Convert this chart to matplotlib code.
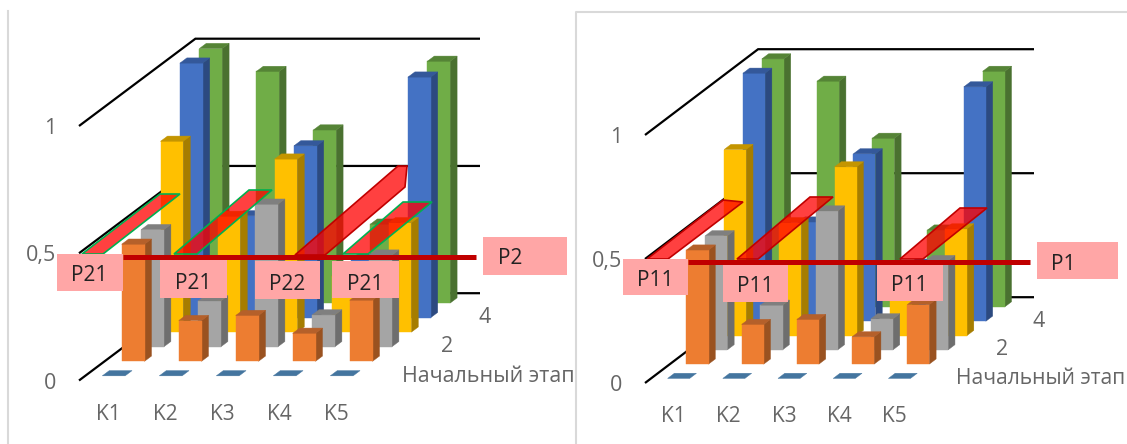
import matplotlib
matplotlib.use('Agg')
import matplotlib.pyplot as plt
from matplotlib.patches import Polygon, Rectangle

plt.rcParams['font.family'] = ['Open Sans', 'DejaVu Sans']

# values, both charts show the same data
categories = ['K1', 'K2', 'K3', 'K4', 'K5']
start_stage = [0, 0, 0, 0, 0]
series1 = [0.46, 0.16, 0.18, 0.11, 0.24]
series2 = [0.46, 0.18, 0.56, 0.125, 0.36]
series3 = [0.75, 0.455, 0.68, 0.22, 0.43]
series4 = [1.0, 0.40, 0.675, 0.23, 0.945]
series5 = [1.0, 0.91, 0.68, 0.31, 0.95]
value_ticks = [0, 0.5, 1]
value_labels = ['0', '0,5', '1']
depth_labels = ['Начальный этап', '2', '4']

rows = [start_stage, series1, series2, series3, series4, series5]
# front, side, top colour of every row
front_colors = ['#44759F', '#ED7D31', '#A5A5A5', '#FFC000', '#4472C4', '#70AD47']
side_colors = ['#44759F', '#9A5220', '#6E6E6E', '#A67D00', '#2C4A80', '#4A7130']
top_colors = ['#44759F', '#B5602A', '#7F7F7F', '#C49500', '#34589A', '#558436']

GRID = 'black'
PINK = '#FFA6A6'
TICK = '#666666'

# the oblique projection of each chart, in pixels
left_panel = dict(x0=79, y0=380.5, w=57.0, dx=19.4, dy=14.55, h=254.5, x_end=480)
right_panel = dict(x0=645, y0=383, w=55.2, dx=18.85, dy=14.3, h=248, x_end=1034)


def project(p, cat, depth, value):
    x = p['x0'] + p['w'] * cat + p['dx'] * depth
    y = p['y0'] - p['dy'] * depth - p['h'] * value
    return x, y


def draw_bar(ax, p, i, j, value, z):
    c0, c1 = i + 0.3, i + 0.7
    d0, d1 = j + 0.32, j + 0.68
    front = [project(p, c0, d0, 0), project(p, c1, d0, 0), project(p, c1, d0, value), project(p, c0, d0, value)]
    side = [project(p, c1, d0, 0), project(p, c1, d1, 0), project(p, c1, d1, value), project(p, c1, d0, value)]
    top = [project(p, c0, d0, value), project(p, c1, d0, value), project(p, c1, d1, value), project(p, c0, d1, value)]
    if value > 0:
        ax.add_patch(Polygon(side, fc=side_colors[j], ec=side_colors[j], lw=0.3, zorder=z))
        ax.add_patch(Polygon(front, fc=front_colors[j], ec=front_colors[j], lw=0.3, zorder=z))
    ax.add_patch(Polygon(top, fc=top_colors[j], ec=top_colors[j], lw=0.3, zorder=z))


def draw_chart(ax, p):
    n_depth = len(rows)
    for v in value_ticks:
        xs, ys = project(p, 0, 0, v)
        xb, yb = project(p, 0, n_depth, v)
        ax.plot([xs, xb, p['x_end']], [ys, yb, yb], color=GRID, lw=1.6, zorder=1,
                solid_joinstyle='miter', solid_capstyle='butt')
        ax.text(xs - 23, ys + 2.5, value_labels[value_ticks.index(v)], color=TICK, fontsize=15.5,
                ha='right', va='center', zorder=50)
    z = 2
    for j in range(n_depth - 1, -1, -1):
        for i in range(len(categories)):
            draw_bar(ax, p, i, j, rows[j][i], z)
            z += 1
    for i, name in enumerate(categories):
        x, y = project(p, i + 0.5, 0, 0)
        ax.text(x + 1, y + 33.5, name, color=TICK, fontsize=15, ha='center', va='center', zorder=50)


def draw_note(ax, box, text, tx, ty):
    ax.add_patch(Rectangle((box[0], box[1]), box[2] - box[0], box[3] - box[1], fc=PINK, ec='none', zorder=60))
    ax.text(tx, ty, text, color='#222222', fontsize=15, ha='center', va='center', zorder=61)


def draw_strip(ax, pts, edge):
    ax.add_patch(Polygon(pts, fc=(1, 0, 0, 0.75), ec=edge, lw=1.2, zorder=55))


fig = plt.figure(figsize=(11.27, 4.44), dpi=100)
ax = fig.add_axes([0, 0, 1, 1])
ax.set_xlim(0, 1127)
ax.set_ylim(444, 0)
ax.axis('off')

# frames of the two charts
ax.plot([8, 8], [11, 444], color='#D9D9D9', lw=1.5, zorder=0)
ax.plot([576, 576, 1127], [444, 12, 12], color='#D9D9D9', lw=1.5, zorder=0)

draw_chart(ax, left_panel)
draw_chart(ax, right_panel)

# depth axis labels
for k, t in enumerate(depth_labels):
    xl = [488, 447, 485][k]
    yl = [376, 346, 317][k]
    ax.text(xl, yl, t, color=TICK, fontsize=15.4 if k == 0 else 15.5, ha='center', va='center', zorder=50)
    xr = [1041, 1002, 1039][k]
    yr = [378, 349, 321][k]
    ax.text(xr, yr, t, color=TICK, fontsize=15.1 if k == 0 else 15.5, ha='center', va='center', zorder=50)

# red strips on top of the left chart
draw_strip(ax, [(82, 254), (103, 254), (180, 194), (160, 194)], '#00B050')
draw_strip(ax, [(174, 254), (197, 254), (272, 190), (249, 190)], '#00B050')
draw_strip(ax, [(295, 255), (325, 255), (405, 187), (407, 166), (398, 166)], '#C00000')
draw_strip(ax, [(343, 254), (368, 254), (432, 202), (403, 202)], '#00B050')
# and on the right one
draw_strip(ax, [(647, 259), (668, 259), (743, 202), (723, 200)], '#C00000')
draw_strip(ax, [(737, 259), (758, 259), (833, 197), (810, 197)], '#C00000')
draw_strip(ax, [(900, 259), (923, 259), (987, 208), (960, 208)], '#C00000')

ax.plot([123, 476], [257, 257], color='#C00000', lw=3.6, zorder=58, solid_capstyle='butt')
ax.plot([688, 1030], [262, 262], color='#C00000', lw=3.6, zorder=58, solid_capstyle='butt')

draw_note(ax, (57, 254, 123, 291), 'P21', 89, 275)
draw_note(ax, (160, 260, 227, 298), 'P21', 193, 283)
draw_note(ax, (255, 261, 320, 299), 'P22', 287, 284)
draw_note(ax, (332, 261, 399, 298), 'P21', 365, 284)
draw_note(ax, (483, 237, 567, 275), 'P2', 510, 258)
draw_note(ax, (623, 259, 688, 295), 'P11', 655, 280)
draw_note(ax, (723, 265, 788, 302), 'P11', 755, 286)
draw_note(ax, (877, 265, 943, 301), 'P11', 909, 285)
draw_note(ax, (1037, 242, 1118, 279), 'P1', 1063, 264)

fig.savefig('out.png', dpi=100)
